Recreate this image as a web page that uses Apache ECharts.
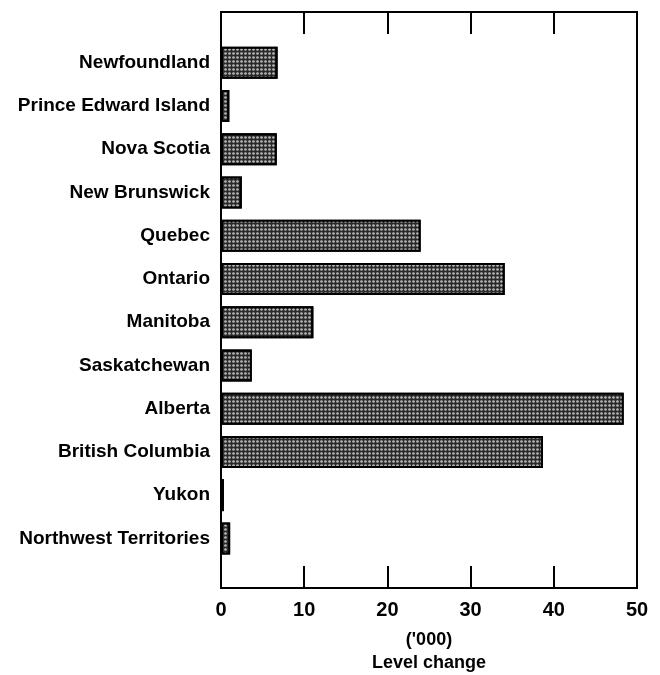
<!DOCTYPE html>
<html>
<head>
<meta charset="utf-8">
<script src="https://cdn.jsdelivr.net/npm/echarts@6/dist/echarts.min.js"></script>
<style>
  html, body { margin: 0; padding: 0; background: #fff; }
  #chart { width: 660px; height: 675px; }
</style>
</head>
<body>
<div id="chart"></div>
<script>
// provinces, top to bottom
var provinces = ['Newfoundland', 'Prince Edward Island', 'Nova Scotia', 'New Brunswick', 'Quebec', 'Ontario',
  'Manitoba', 'Saskatchewan', 'Alberta', 'British Columbia', 'Yukon', 'Northwest Territories']
// level change ('000)
var levelChange = [6.8, 1.0, 6.7, 2.5, 24.0, 34.1, 11.1, 3.7, 48.4, 38.7, 0.35, 1.1]
var xTicks = [0, 10, 20, 30, 40, 50]

var font = 'Liberation Sans'
var myChart = echarts.init(document.getElementById('chart'))

var option = {
  backgroundColor: '#fff',
  animation: false,
  grid: [
    // frame box with the ticks
    { left: 221, right: 23, top: 12, bottom: 87, show: true, borderColor: '#000', borderWidth: 2, outerBoundsMode: 'none' },
    // bars
    { left: 221, right: 23, top: 41, bottom: 115, outerBoundsMode: 'none' }
  ],
  xAxis: [
    {
      gridIndex: 0, type: 'value', position: 'bottom',
      min: xTicks[0], max: xTicks[xTicks.length - 1], interval: 10,
      axisLine: { show: true, lineStyle: { color: '#000', width: 2 } },
      axisTick: { show: true, inside: true, length: 22, lineStyle: { color: '#000', width: 2 } },
      splitLine: { show: false },
      axisLabel: { color: '#000', fontFamily: font, fontWeight: 'bold', fontSize: 20, margin: 12 },
      name: "('000)\nLevel change",
      nameLocation: 'middle',
      nameGap: 41,
      nameTextStyle: { color: '#000', fontFamily: font, fontWeight: 'bold', fontSize: 18, lineHeight: 23, verticalAlign: 'top' }
    },
    {
      gridIndex: 0, type: 'value', position: 'top',
      min: xTicks[0], max: xTicks[xTicks.length - 1], interval: 10,
      axisLine: { show: true, lineStyle: { color: '#000', width: 2 } },
      axisTick: { show: true, inside: true, length: 22, lineStyle: { color: '#000', width: 2 } },
      splitLine: { show: false },
      axisLabel: { show: false }
    },
    {
      gridIndex: 1, type: 'value', min: 0, max: 50, show: false
    }
  ],
  yAxis: [
    { gridIndex: 0, type: 'value', show: false },
    {
      gridIndex: 1, type: 'category', inverse: true, data: provinces,
      axisLine: { show: false },
      axisTick: { show: false },
      axisLabel: { color: '#000', fontFamily: font, fontWeight: 'bold', fontSize: 19, margin: 11 }
    }
  ],
  series: [
    {
      type: 'bar',
      xAxisIndex: 2,
      yAxisIndex: 1,
      data: levelChange,
      barWidth: 32,
      itemStyle: {
        color: '#2a2a2a',
        borderColor: '#000',
        borderWidth: 2,
        decal: {
          symbol: 'circle',
          symbolSize: 0.9,
          color: '#b8b8b8',
          dashArrayX: [[3, 1]],
          dashArrayY: [3, 1],
          rotation: 0
        }
      }
    }
  ]
}

option && myChart.setOption(option)
</script>
</body>
</html>
